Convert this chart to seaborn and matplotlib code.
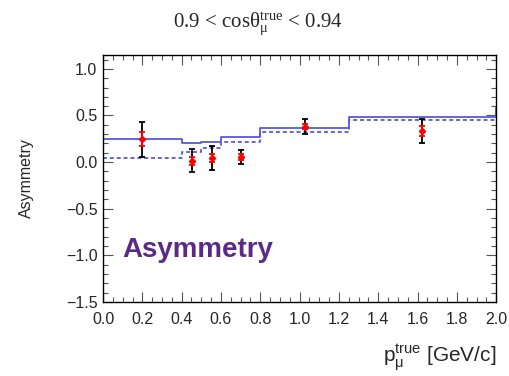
import numpy as np
import pandas as pd
import matplotlib
matplotlib.use("Agg")
import matplotlib.pyplot as plt
from matplotlib.ticker import MultipleLocator
import seaborn as sns

# bin edges and step values of the two predictions
edges = [0.0, 0.4, 0.5, 0.6, 0.8, 1.25, 2.0, 2.1]
solid_vals = [0.25, 0.21, 0.22, 0.265, 0.37, 0.48, 0.58]
dashed_vals = [0.045, 0.11, 0.155, 0.22, 0.325, 0.45, 0.45]

# measured points
pt_x = [0.20, 0.453, 0.553, 0.70, 1.025, 1.62]
pt_y = [0.245, 0.015, 0.046, 0.057, 0.38, 0.335]
err_tot = [0.19, 0.125, 0.128, 0.073, 0.08, 0.13]
err_stat = [0.075, 0.045, 0.04, 0.03, 0.03, 0.055]

BLUE = "#5858dc"
PURPLE = "#5b2a86"

sns.set_theme(style="ticks")
plt.rcParams["font.family"] = ["Liberation Sans", "DejaVu Sans"]
plt.rcParams["mathtext.fontset"] = "custom"
plt.rcParams["mathtext.rm"] = "Liberation Sans"
plt.rcParams["mathtext.it"] = "Liberation Sans"

fig = plt.figure(figsize=(5.1, 3.76), dpi=100)
ax = fig.add_axes([0.202, 0.197, 0.771, 0.657])

steps_solid = pd.DataFrame({"x": edges, "y": solid_vals + [solid_vals[-1]]})
steps_dash = pd.DataFrame({"x": edges, "y": dashed_vals + [dashed_vals[-1]]})
sns.lineplot(data=steps_solid, x="x", y="y", ax=ax, drawstyle="steps-post",
             color=BLUE, linewidth=1.3)
sns.lineplot(data=steps_dash, x="x", y="y", ax=ax, drawstyle="steps-post",
             color=BLUE, linewidth=1.3, linestyle=(0, (2.2, 1.6)))

ax.errorbar(pt_x, pt_y, yerr=err_tot, fmt="none", ecolor="black",
            elinewidth=1.3, capsize=2.2, capthick=1.3, zorder=3)
ax.errorbar(pt_x, pt_y, yerr=err_stat, fmt="D", color="red", ms=3.2,
            ecolor="red", elinewidth=1.3, capsize=2.2, capthick=1.3, zorder=4)

ax.set_xlim(0, 2.0)
ax.set_ylim(-1.5, 1.15)
ax.xaxis.set_major_locator(MultipleLocator(0.2))
ax.xaxis.set_minor_locator(MultipleLocator(0.05))
ax.yaxis.set_major_locator(MultipleLocator(0.5))
ax.yaxis.set_minor_locator(MultipleLocator(0.1))
ax.xaxis.set_major_formatter(matplotlib.ticker.FormatStrFormatter("%.1f"))
ax.yaxis.set_major_formatter(matplotlib.ticker.FuncFormatter(
    lambda v, p: f"{v:.1f}".replace("-", "\u2212")))
ax.tick_params(which="both", direction="in", top=True, right=True,
               labelsize=11.5, width=0.8, color="#555555")
ax.tick_params(axis="x", pad=7)
ax.tick_params(axis="y", pad=4)
ax.tick_params(which="major", length=7)
ax.tick_params(which="minor", length=3.5)
for s in ax.spines.values():
    s.set_linewidth(1.0)
    s.set_color("black")

ax.set_xlabel("")
ax.set_ylabel("Asymmetry", fontsize=11.5)
ax.yaxis.set_label_coords(-0.175, 0.5)
fig.text(0.973, 0.035, r"$\mathregular{p_{\mu}^{true}}$ [GeV/c]", ha="right",
         fontsize=15)
fig.text(0.505, 0.925, r"0.9 < cos$\mathregular{\theta_{\mu}^{true}}$ < 0.94",
         ha="center", family="Liberation Serif", math_fontfamily="stix",
         fontsize=15)
ax.text(0.048, 0.18, "Asymmetry", transform=ax.transAxes, fontsize=20,
        fontweight="bold", color=PURPLE)

fig.savefig("out.png", dpi=100)
